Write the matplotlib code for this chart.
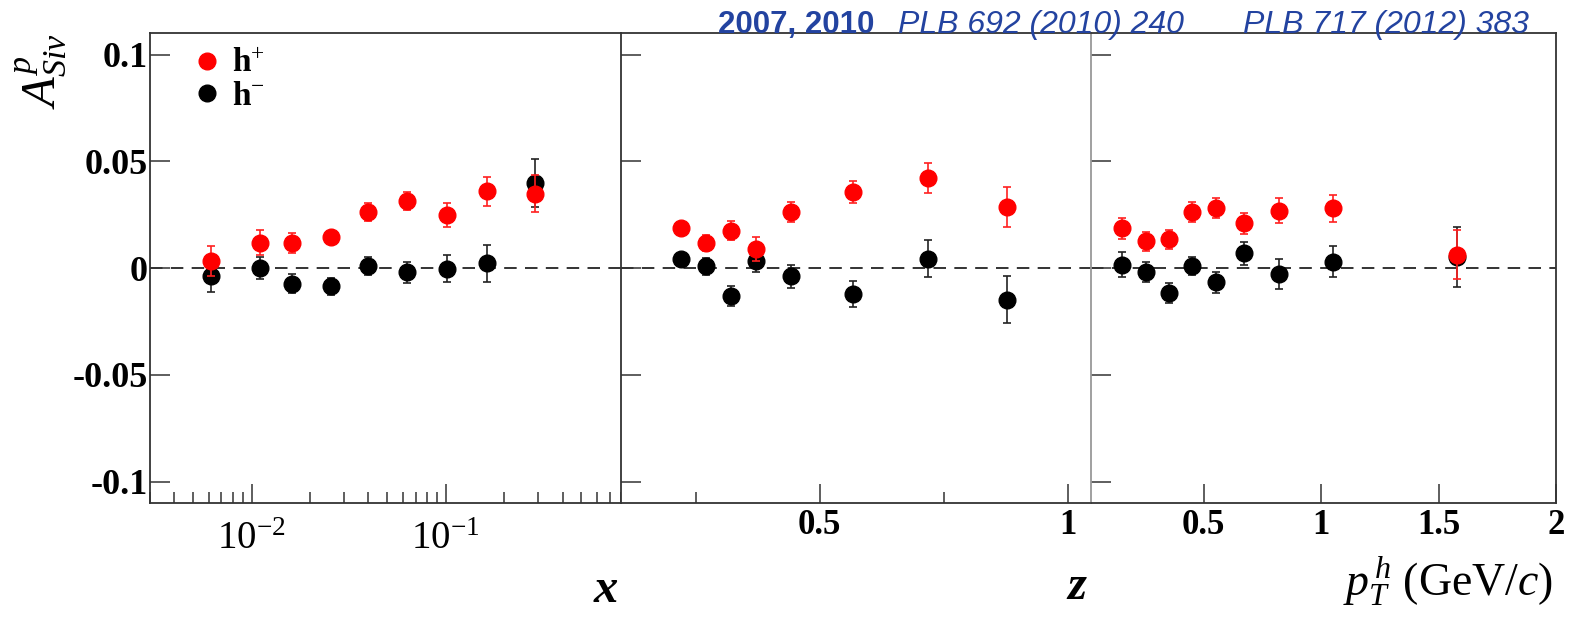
import matplotlib as mpl
mpl.use("Agg")
import matplotlib.pyplot as plt
from matplotlib.ticker import FixedLocator, NullFormatter, FixedFormatter
from matplotlib.lines import Line2D

# Sivers asymmetry on proton, h+ / h- vs x, z, pT
x_bins = [0.0062, 0.011, 0.0162, 0.0258, 0.0398, 0.0632, 0.102, 0.163, 0.288]
x_hp = [0.0034, 0.0119, 0.0116, 0.0144, 0.0262, 0.0315, 0.0249, 0.0360, 0.0348]
x_hp_err = [0.0072, 0.0058, 0.0047, 0.0025, 0.0043, 0.0043, 0.0055, 0.0068, 0.0086]
x_hm = [-0.0039, 0.0000, -0.0072, -0.0085, 0.0011, -0.0020, -0.0002, 0.0022, 0.0400]
x_hm_err = [0.0071, 0.0050, 0.0045, 0.0040, 0.0042, 0.0050, 0.0065, 0.0086, 0.0113]

z_bins = [0.221, 0.271, 0.321, 0.371, 0.443, 0.566, 0.717, 0.877]
z_hp = [0.0187, 0.0116, 0.0176, 0.0089, 0.0262, 0.0357, 0.0422, 0.0285]
z_hp_err = [0.0025, 0.0037, 0.0043, 0.0055, 0.0046, 0.0050, 0.0072, 0.0094]
z_hm = [0.0042, 0.0008, -0.0130, 0.0034, -0.0038, -0.0122, 0.0045, -0.0149]
z_hm_err = [0.0025, 0.0040, 0.0047, 0.0050, 0.0055, 0.0060, 0.0086, 0.0110]

pt_bins = [0.152, 0.253, 0.352, 0.452, 0.551, 0.672, 0.821, 1.051, 1.577]
pt_hp = [0.0187, 0.0125, 0.0136, 0.0262, 0.0280, 0.0210, 0.0270, 0.0280, 0.0063]
pt_hp_err = [0.0050, 0.0046, 0.0045, 0.0047, 0.0047, 0.0049, 0.0058, 0.0062, 0.0115]
pt_hm = [0.0016, -0.0020, -0.0118, 0.0011, -0.0067, 0.0069, -0.0028, 0.0031, 0.0053]
pt_hm_err = [0.0058, 0.0047, 0.0047, 0.0042, 0.0050, 0.0055, 0.0069, 0.0072, 0.0140]

y_ticks = [-0.1, -0.05, 0, 0.05, 0.1]
y_ticklabels = ["-0.1", "-0.05", "0", "0.05", "0.1"]

plt.rcParams["font.family"] = "Liberation Serif"
plt.rcParams["mathtext.fontset"] = "custom"
plt.rcParams["mathtext.rm"] = "Liberation Serif"
plt.rcParams["mathtext.it"] = "Liberation Serif:italic"
plt.rcParams["mathtext.bf"] = "Liberation Serif:bold"
plt.rcParams["axes.unicode_minus"] = False
plt.rcParams["lines.scale_dashes"] = False

AX_COL = "#333333"
BLUE = "#2343a0"

fig = plt.figure(figsize=(15.73, 6.2), dpi=100)
bot, h = 0.1887, 0.7576
edges = [0.0954, 0.3948, 0.6936, 0.9892]
axes = [fig.add_axes([edges[i], bot, edges[i + 1] - edges[i], h]) for i in range(3)]

panels = [
    (x_bins, x_hp, x_hp_err, x_hm, x_hm_err),
    (z_bins, z_hp, z_hp_err, z_hm, z_hm_err),
    (pt_bins, pt_hp, pt_hp_err, pt_hm, pt_hm_err),
]

for i, (ax, (xb, hp, hpe, hm, hme)) in enumerate(zip(axes, panels)):
    ax.axhline(0, color=AX_COL, lw=1.4, dashes=(9, 6), zorder=1)
    ax.errorbar(xb, hm, yerr=hme, fmt="o", color="black", ecolor="#222222",
                ms=12, elinewidth=1.2, capsize=2.6, capthick=1.2, zorder=3)
    ax.errorbar(xb, hp, yerr=hpe, fmt="o", color="#ff0000", ecolor="#ff2020",
                ms=12, elinewidth=1.2, capsize=2.6, capthick=1.2, zorder=4)
    ax.set_ylim(-0.11, 0.11)
    ax.yaxis.set_major_locator(FixedLocator(y_ticks))
    ax.tick_params(axis="y", which="both", direction="in", length=14.4, width=1.1,
                   color=AX_COL, left=True, right=False, pad=1.5, labelsize=26)
    ax.tick_params(axis="x", which="major", direction="in", length=14, width=1.1,
                   color=AX_COL, top=False, labelsize=25)
    ax.tick_params(axis="x", which="minor", direction="in", length=8, width=1.1,
                   color=AX_COL, top=False)
    for s in ax.spines.values():
        s.set_color(AX_COL)
        s.set_linewidth(1.3)
    if i < 2:
        ax.spines["right"].set_visible(False)
    if i > 0:
        ax.set_yticklabels([])
    else:
        ax.yaxis.set_major_formatter(FixedFormatter(y_ticklabels))

axes[2].spines["left"].set_color("#999999")

# x panel, log scale
ax1 = axes[0]
ax1.set_xscale("log")
ax1.set_xlim(0.003, 0.8)
ax1.xaxis.set_major_locator(FixedLocator([0.01, 0.1]))
ax1.xaxis.set_major_formatter(FixedFormatter([r"$10^{-2}$", r"$10^{-1}$"]))
minors = [m * 10.0 ** e for e in (-3, -2, -1) for m in range(2, 10)]
ax1.xaxis.set_minor_locator(FixedLocator(minors))
ax1.xaxis.set_minor_formatter(NullFormatter())
ax1.tick_params(axis="x", which="major", pad=13, labelsize=28)
for lab in ax1.get_yticklabels():
    lab.set_fontweight("bold")

# z panel
ax2 = axes[1]
ax2.set_xlim(0.1, 1.046)
ax2.xaxis.set_major_locator(FixedLocator([0.5, 1.0]))
ax2.xaxis.set_major_formatter(FixedFormatter(["0.5", "1"]))
ax2.xaxis.set_minor_locator(FixedLocator([0.25, 0.75]))
ax2.tick_params(axis="x", which="major", pad=4)

# pT panel
ax3 = axes[2]
ax3.set_xlim(0.02, 2.0)
ax3.xaxis.set_major_locator(FixedLocator([0.5, 1.0, 1.5, 2.0]))
ax3.xaxis.set_major_formatter(FixedFormatter(["0.5", "1", "1.5", "2"]))
ax3.tick_params(axis="x", which="major", pad=4)
for ax in (ax2, ax3):
    for lab in ax.get_xticklabels():
        lab.set_fontweight("bold")

handles = [
    Line2D([0], [0], ls="none", marker="o", ms=12, color="#ff0000"),
    Line2D([0], [0], ls="none", marker="o", ms=12, color="black"),
]
ax1.legend(handles, [r"$\mathbf{h}^{+}$", r"$\mathbf{h}^{-}$"], loc="upper left",
           bbox_to_anchor=(0.064, 0.995), frameon=False, fontsize=24,
           handlelength=0.8, handletextpad=0.35, labelspacing=0.05, borderaxespad=0)

# axis titles
fig.text(0.026, 1 - 33 / 620, r"$A^{p}_{Siv}$", rotation=90, ha="center", va="top",
         fontsize=35)
fig.text(0.3929, 0.048, "x", ha="right", va="center", fontsize=35,
         fontstyle="italic", fontweight="bold")
fig.text(0.6904, 0.053, "z", ha="right", va="center", fontsize=35,
         fontstyle="italic", fontweight="bold")
fig.text(0.9876, 0.064, r"$p^{\,h}_{T}$ (GeV/$c$)", ha="right", va="center",
         fontsize=33)

# publication references
yb = 1 - 33 / 620
fig.text(718 / 1573, yb, "2007, 2010", color=BLUE, fontsize=22.5, fontweight="bold",
         family="Liberation Sans", ha="left", va="baseline")
fig.text(898 / 1573, yb, "PLB 692 (2010) 240", color=BLUE, fontsize=23,
         fontstyle="italic", family="Liberation Sans", ha="left", va="baseline")
fig.text(1243 / 1573, yb, "PLB 717 (2012) 383", color=BLUE, fontsize=23,
         fontstyle="italic", family="Liberation Sans", ha="left", va="baseline")

fig.savefig("out.png", dpi=100)
